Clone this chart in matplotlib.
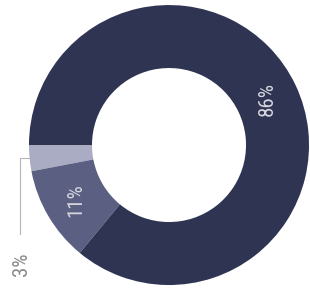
import numpy as np
import matplotlib.pyplot as plt

# 도넛 차트 데이터
shares = [3, 11, 86]
labels = ["3%", "11%", "86%"]
colors = ["#a9acc2", "#5b5f82", "#2f3453"]

FONT = ["Roboto Condensed", "DejaVu Sans Condensed", "Liberation Sans Narrow", "Roboto"]


def main() -> None:
    fig = plt.figure(figsize=(3.10, 2.93), dpi=100)
    ax = fig.add_axes([0, 0, 1, 1])

    wedges, _ = ax.pie(
        shares,
        colors=colors,
        startangle=180,
        counterclock=True,
        radius=1.0,
        wedgeprops=dict(width=0.45, linewidth=0),
    )

    inner_r = 1.0 - 0.45 / 2
    for w, lab in zip(wedges[1:], labels[1:]):
        mid = np.deg2rad((w.theta1 + w.theta2) / 2)
        ax.text(inner_r * np.cos(mid), inner_r * np.sin(mid), lab,
                rotation=90, ha="center", va="center",
                color="#d4d5de", fontsize=15, family=FONT)

    # 3% 바깥 라벨 + 리더 라인
    w = wedges[0]
    mid = np.deg2rad((w.theta1 + w.theta2) / 2)
    x0, y0 = np.cos(mid), np.sin(mid)
    xl = x0 - 0.07
    ax.plot([x0, xl, xl], [y0, y0, y0 - 0.54], color="#b5b5b5", lw=0.8)
    ax.text(xl + 0.015, y0 - 0.76, labels[0], rotation=90,
            ha="center", va="center", color="#8a8a8a",
            fontsize=15, family=FONT)

    ax.set_xlim(-1.207, 1.007)
    ax.set_ylim(-1.057, 1.036)
    ax.set_aspect("auto")
    ax.axis("off")

    fig.savefig("out.png", dpi=100, facecolor="white")
    plt.close(fig)


if __name__ == "__main__":
    main()
